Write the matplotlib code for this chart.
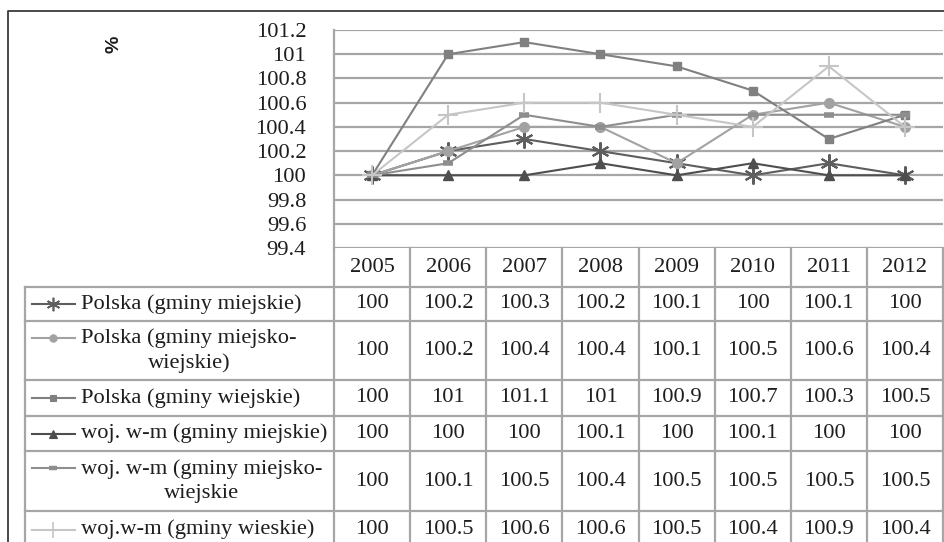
import numpy as np
import matplotlib
matplotlib.use("Agg")
import matplotlib.pyplot as plt

plt.rcParams['font.family'] = ['Liberation Serif', 'DejaVu Serif']

# Data
years = ['2005', '2006', '2007', '2008', '2009', '2010', '2011', '2012']
labels = ['Polska (gminy miejskie)',
          'Polska (gminy miejsko-\nwiejskie)',
          'Polska (gminy wiejskie)',
          'woj. w-m (gminy miejskie)',
          'woj. w-m (gminy miejsko-\nwiejskie',
          'woj.w-m (gminy wieskie)']
pl_miejskie = [100, 100.2, 100.3, 100.2, 100.1, 100, 100.1, 100]
pl_miejsko_wiejskie = [100, 100.2, 100.4, 100.4, 100.1, 100.5, 100.6, 100.4]
pl_wiejskie = [100, 101, 101.1, 101, 100.9, 100.7, 100.3, 100.5]
wm_miejskie = [100, 100, 100, 100.1, 100, 100.1, 100, 100]
wm_miejsko_wiejskie = [100, 100.1, 100.5, 100.4, 100.5, 100.5, 100.5, 100.5]
wm_wiejskie = [100, 100.5, 100.6, 100.6, 100.5, 100.4, 100.9, 100.4]
series = [pl_miejskie, pl_miejsko_wiejskie, pl_wiejskie,
          wm_miejskie, wm_miejsko_wiejskie, wm_wiejskie]
yticks = [99.4, 99.6, 99.8, 100, 100.2, 100.4, 100.6, 100.8, 101, 101.2]

# styles: color, marker, marker size, marker edge width
styles = [('#5e5e5e', (6, 2, 0), 13, 1.5),
          ('#a2a2a2', 'o', 7, 1.0),
          ('#808080', 's', 6, 1.0),
          ('#4e4e4e', '^', 7, 1.0),
          ('#8e8e8e', '_', 7, 4.0),
          ('#c6c6c6', '+', 15, 1.5)]

W, H = 944, 542
fig = plt.figure(figsize=(W / 100, H / 100), dpi=100)

# pixel layout
px_left, px_right, px_top, px_bottom = 334, 943, 30, 248
grid_c = '#a6a6a6'
fs = 16.2
txt_c = '#1e1e1e'

ax = fig.add_axes([px_left / W, 1 - px_bottom / H,
                   (px_right - px_left) / W, (px_bottom - px_top) / H])
x = np.arange(len(years))
for vals, (c, m, ms, mw) in zip(series, styles):
    ax.plot(x, vals, color=c, lw=1.5, marker=m, ms=ms, mfc=c, mec=c,
            mew=mw, clip_on=False, zorder=3)
ax.set_xlim(-0.5, len(years) - 0.5)
ax.set_ylim(99.4, 101.2)
ax.set_yticks(yticks)
ax.set_yticklabels([f'{v:g}' for v in yticks], fontsize=fs, color=txt_c)
ax.tick_params(axis='y', length=0, pad=20)
ax.set_xticks([])
for y in yticks:
    ax.axhline(y, color=grid_c, lw=1.6, zorder=1)
for s in ['top', 'right', 'bottom']:
    ax.spines[s].set_visible(False)
ax.spines['left'].set_color(grid_c)
ax.spines['left'].set_linewidth(1.6)

# overlay for the data table and frame
ov = fig.add_axes([0, 0, 1, 1])
ov.set_xlim(0, W)
ov.set_ylim(H, 0)
ov.axis('off')
ov.patch.set_alpha(0)

# outer frame
ov.plot([8, 8, W + 5], [H + 5, 11, 11], color='#3a3a3a', lw=1.3)

ov.text(114, 44, '%', rotation=90, ha='center', va='center',
        fontsize=14, fontweight='bold', family='Liberation Sans', color=txt_c)

col_w = (px_right - px_left) / len(years)
col_x = [px_left + i * col_w for i in range(len(years) + 1)]
row_y = [287, 321, 380, 416, 451, 511, 548]
tab_left = 25

# table lines
for cx in col_x:
    ov.plot([cx, cx], [px_bottom, H + 5], color=grid_c, lw=1.6)
for ry in row_y[:-1]:
    ov.plot([tab_left, px_right], [ry, ry], color=grid_c, lw=1.6)
ov.plot([tab_left, tab_left], [row_y[0], H + 5], color=grid_c, lw=1.6)

# header
for i, yr in enumerate(years):
    ov.text(col_x[i] + col_w / 2, (px_bottom + row_y[0]) / 2, yr,
            ha='center', va='center', fontsize=fs, color=txt_c)

# rows
for r, (lab, vals, (c, m, ms, mw)) in enumerate(zip(labels, series, styles)):
    y0, y1 = row_y[r], row_y[r + 1]
    yc = (y0 + y1) / 2
    two = '\n' in lab
    key_y = y0 + 17 if two else yc
    ov.plot([32, 75], [key_y, key_y], color=c, lw=1.5)
    ov.plot([53], [key_y], marker=m, ms=ms * 0.75, color=c, mfc=c, mec=c,
            mew=mw * 0.8)
    ov.text(81, yc, lab, ha='left', va='center', multialignment='center',
            fontsize=fs, linespacing=1.35, color=txt_c)
    for i, v in enumerate(vals):
        ov.text(col_x[i] + col_w / 2, yc, f'{v:g}', ha='center',
                va='center', fontsize=fs, color=txt_c)

fig.savefig('out.png', dpi=100)
